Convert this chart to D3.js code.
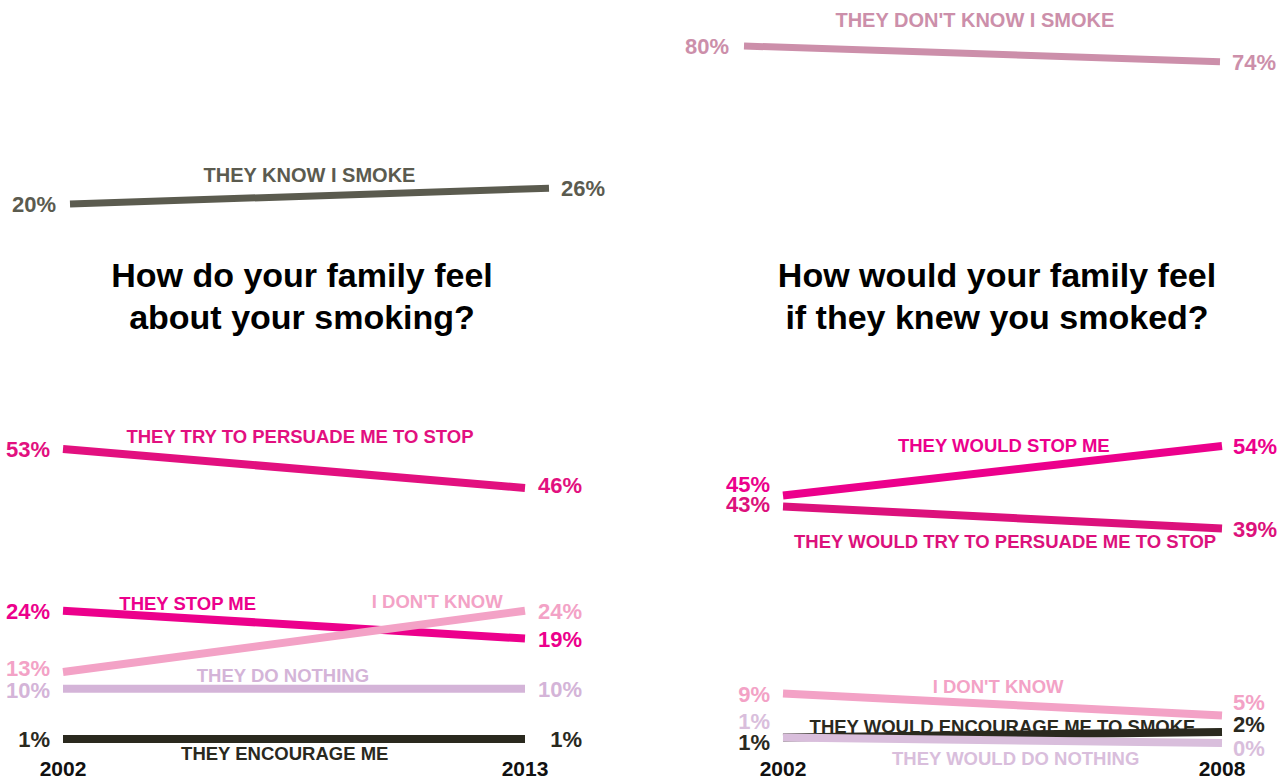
<!DOCTYPE html>
<html>
<head>
<meta charset="utf-8">
<script src="https://cdn.jsdelivr.net/npm/d3@7"></script>
<style>
  body { margin: 0; background: #fff; }
  svg { display: block; font-family: "Liberation Sans", Arial, sans-serif; }
  .title { font-size: 34px; font-weight: bold; fill: #000; }
  .val { font-weight: bold; font-size: 22px; }
  .lab { font-weight: bold; }
  .year { font-size: 21px; font-weight: bold; fill: #111; }
</style>
</head>
<body>
<svg id="chart"></svg>
<script>
// ------------------------------------------------------------
// Slope charts: do families know / how do they feel about smoking
// ------------------------------------------------------------

// Data
const knowCategories = ["THEY KNOW I SMOKE", "THEY DON'T KNOW I SMOKE"];
const know2002 = [20, 80];
const know2013 = [26, 74];

const feelYears = ["2002", "2013"];
const feelCategories = ["THEY TRY TO PERSUADE ME TO STOP", "THEY STOP ME", "I DON'T KNOW", "THEY DO NOTHING", "THEY ENCOURAGE ME"];
const feel2002 = [53, 24, 13, 10, 1];
const feel2013 = [46, 19, 24, 10, 1];

const wouldYears = ["2002", "2008"];
const wouldCategories = ["THEY WOULD ENCOURAGE ME TO SMOKE", "THEY WOULD DO NOTHING", "I DON'T KNOW", "THEY WOULD TRY TO PERSUADE ME TO STOP", "THEY WOULD STOP ME"];
const would2002 = [1, 1, 9, 43, 45];
const would2008 = [2, 0, 5, 39, 54];

const titles = [
  ["How do your family feel", "about your smoking?"],
  ["How would your family feel", "if they knew you smoked?"]
];

// Colours per category
const colors = {
  "THEY KNOW I SMOKE": "#5b5b4f",
  "THEY DON'T KNOW I SMOKE": "#cc8faa",
  "THEY TRY TO PERSUADE ME TO STOP": "#e2107f",
  "THEY STOP ME": "#ec008c",
  "I DON'T KNOW": "#f3a2c6",
  "THEY DO NOTHING": "#d4b4d8",
  "THEY ENCOURAGE ME": "#2a291e",
  "THEY WOULD STOP ME": "#ec008c",
  "THEY WOULD TRY TO PERSUADE ME TO STOP": "#dc117c",
  "THEY WOULD DO NOTHING": "#d9bedc",
  "THEY WOULD ENCOURAGE ME TO SMOKE": "#2a291e"
};

// Label placement: t = position along the line, dy = baseline offset from the line.
// l / r = vertical nudges of the value labels at each end.
const place = {
  "THEY KNOW I SMOKE": { t: 0.5, dy: -14 },
  "THEY DON'T KNOW I SMOKE": { t: 0.485, dy: -27 },
  "THEY TRY TO PERSUADE ME TO STOP": { t: 0.513, dy: -26, r: -3 },
  "THEY STOP ME": { t: 0.27, dy: -8 },
  "I DON'T KNOW": { t: 0.81, dy: -14, l: -4 },
  "THEY DO NOTHING": { t: 0.476, dy: -7, l: 1 },
  "THEY ENCOURAGE ME": { t: 0.48, dy: 21 },
  "THEY WOULD STOP ME": { t: 0.503, dy: -19, l: -12 },
  "THEY WOULD TRY TO PERSUADE ME TO STOP": { t: 0.506, dy: 30, l: -3 },
  "I DON'T KNOW ": { t: 0.49, dy: -11, r: -14 },
  "THEY WOULD DO NOTHING": { t: 0.53, dy: 25, l: -17, r: 5 },
  "THEY WOULD ENCOURAGE ME TO SMOKE": { t: 0.5, dy: -2, l: 4, r: -8 }
};

const width = 1287;
const height = 781;

const svg = d3.select("#chart")
  .attr("width", width)
  .attr("height", height);

// Top panel shares one vertical scale.
const topY = d3.scaleLinear().domain([20, 80]).range([204, 46]);

drawSlope({
  cats: [knowCategories[0]], v0: [know2002[0]], v1: [know2013[0]],
  x: d3.scaleLinear().domain([0, 1]).range([70, 549]),
  y: topY, labelSize: 20, stroke: 7, gapL: 14, rightAnchor: "start", gapR: 12
});
drawSlope({
  cats: [knowCategories[1]], v0: [know2002[1]], v1: [know2013[1]],
  x: d3.scaleLinear().domain([0, 1]).range([744, 1220]),
  y: topY, labelSize: 20, stroke: 7, gapL: 15, rightAnchor: "start", gapR: 12
});

// Bottom left panel
drawSlope({
  cats: feelCategories, v0: feel2002, v1: feel2013,
  x: d3.scaleLinear().domain([0, 1]).range([63, 525]),
  y: d3.scaleLinear().domain([1, 53]).range([739, 449]),
  labelSize: 18.5, stroke: 8, gapL: 13, rightAnchor: "end", gapR: 57,
  years: feelYears
});

// Bottom right panel
drawSlope({
  cats: wouldCategories, v0: would2002, v1: would2008,
  x: d3.scaleLinear().domain([0, 1]).range([783, 1222]),
  y: d3.scaleLinear().domain([0, 54]).range([743, 446]),
  labelSize: 18.5, stroke: 8, gapL: 13, rightAnchor: "start", gapR: 11,
  years: wouldYears, keySuffix: " "
});

// Titles
titles.forEach((lines, i) => {
  const cx = i === 0 ? 302 : 997;
  const t = svg.append("text")
    .attr("class", "title")
    .attr("text-anchor", "middle")
    .attr("x", cx)
    .attr("y", 287);
  lines.forEach((line, j) => {
    t.append("tspan")
      .attr("x", cx)
      .attr("dy", j === 0 ? 0 : 42)
      .text(line);
  });
});

function drawSlope(o) {
  const g = svg.append("g");
  const x0 = o.x(0);
  const x1 = o.x(1);

  const rows = o.cats.map((c, i) => {
    let key = c;
    if (o.keySuffix && c === "I DON'T KNOW") key = c + o.keySuffix;
    return { name: c, a: o.v0[i], b: o.v1[i], p: place[key] || { t: 0.5, dy: -10 } };
  });

  const line = d3.line().x(d => d[0]).y(d => d[1]);

  // Lines
  g.selectAll(".slope")
    .data(rows)
    .enter()
    .append("path")
    .attr("class", "slope")
    .attr("d", d => line([[x0, o.y(d.a)], [x1, o.y(d.b)]]))
    .attr("fill", "none")
    .attr("stroke", d => colors[d.name])
    .attr("stroke-width", o.stroke);

  // Category labels
  g.selectAll(".lab")
    .data(rows)
    .enter()
    .append("text")
    .attr("class", "lab")
    .attr("text-anchor", "middle")
    .attr("font-size", o.labelSize)
    .attr("fill", d => colors[d.name])
    .attr("x", d => o.x(d.p.t))
    .attr("y", d => o.y(d.a) + (o.y(d.b) - o.y(d.a)) * d.p.t + d.p.dy)
    .text(d => d.name);

  // Start values
  g.selectAll(".vl")
    .data(rows)
    .enter()
    .append("text")
    .attr("class", "val")
    .attr("text-anchor", "end")
    .attr("fill", d => colors[d.name])
    .attr("x", x0 - o.gapL)
    .attr("y", d => o.y(d.a) + (d.p.l || 0) + 8)
    .text(d => d.a + "%");

  // End values
  g.selectAll(".vr")
    .data(rows)
    .enter()
    .append("text")
    .attr("class", "val")
    .attr("text-anchor", o.rightAnchor)
    .attr("fill", d => colors[d.name])
    .attr("x", x1 + o.gapR)
    .attr("y", d => o.y(d.b) + (d.p.r || 0) + 8)
    .text(d => d.b + "%");

  // Year labels
  if (o.years) {
    g.selectAll(".year")
      .data(o.years)
      .enter()
      .append("text")
      .attr("class", "year")
      .attr("text-anchor", "middle")
      .attr("x", (d, i) => o.x(i))
      .attr("y", 776)
      .text(d => d);
  }
}
</script>
</body>
</html>
